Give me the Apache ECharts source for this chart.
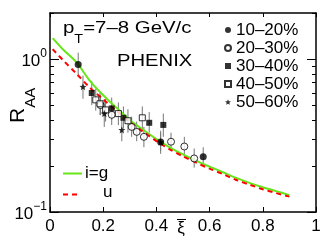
<!DOCTYPE html>
<html><head><meta charset="utf-8">
<script src="https://cdn.jsdelivr.net/npm/echarts@6/dist/echarts.min.js"></script>
<style>html,body{margin:0;padding:0;background:#fff}#c{width:332px;height:250px}</style>
</head><body><div id="c"></div>
<script>
const FONT = 'Liberation Sans';
const xTicks = [0, 0.2, 0.4, 0.6, 0.8, 1];
const xTickLabels = ['0', '0.2', '0.4', '0.6', '0.8', '1'];
const yMajor = [0.1, 1];
const yMinor = [0.2, 0.3, 0.4, 0.5, 0.6, 0.7, 0.8, 0.9, 2];

const centralities = ['10–20%', '20–30%', '30–40%', '40–50%', '50–60%'];
// [xi, RAA, low, high]
const c1020 = [[0.106, 0.92, 0.78, 1.10], [0.416, 0.287, 0.24, 0.34], [0.576, 0.23, 0.205, 0.265]];
const c2030 = [[0.19, 0.50, 0.43, 0.58], [0.232, 0.432, 0.37, 0.50], [0.307, 0.36, 0.31, 0.42], [0.326, 0.334, 0.29, 0.39], [0.353, 0.31, 0.265, 0.36], [0.455, 0.288, 0.25, 0.33], [0.505, 0.268, 0.23, 0.31], [0.542, 0.224, 0.195, 0.26]];
const c3040 = [[0.157, 0.60, 0.50, 0.72], [0.232, 0.475, 0.40, 0.56], [0.276, 0.413, 0.35, 0.49], [0.373, 0.383, 0.33, 0.45], [0.426, 0.371, 0.31, 0.44]];
const c4050 = [[0.172, 0.541, 0.46, 0.64], [0.188, 0.51, 0.43, 0.60], [0.209, 0.465, 0.39, 0.55], [0.257, 0.44, 0.37, 0.52], [0.293, 0.395, 0.33, 0.47], [0.347, 0.413, 0.35, 0.49]];
const c5060 = [[0.124, 0.659, 0.55, 0.78], [0.204, 0.44, 0.36, 0.53], [0.270, 0.344, 0.29, 0.41], [0.416, 0.287, 0.25, 0.33]];

const curveX  = [0.01, 0.05, 0.1, 0.15, 0.2, 0.25, 0.3, 0.35, 0.4, 0.45, 0.5, 0.55, 0.6, 0.65, 0.7, 0.75, 0.8, 0.85, 0.9];
const curveIG = [1.37, 1.15, 0.95, 0.72, 0.58, 0.48, 0.40, 0.345, 0.30, 0.265, 0.238, 0.216, 0.198, 0.182, 0.167, 0.155, 0.145, 0.137, 0.129];
const curveU  = [1.16, 0.98, 0.80, 0.65, 0.545, 0.458, 0.388, 0.335, 0.291, 0.257, 0.231, 0.21, 0.192, 0.177, 0.162, 0.151, 0.141, 0.133, 0.126];

const STAR = 'path://M0,-10L2.6,-3.6L9.5,-3.1L4.2,1.4L5.9,8.1L0,4.4L-5.9,8.1L-4.2,1.4L-9.5,-3.1L-2.6,-3.6Z';
const styles = [
  {symbol: 'circle', size: 7, item: {color: '#000'}},
  {symbol: 'circle', size: 7, item: {color: '#fff', borderColor: '#000', borderWidth: 1}},
  {symbol: 'rect', size: 6, item: {color: '#000'}},
  {symbol: 'rect', size: 6, item: {color: '#fff', borderColor: '#000', borderWidth: 1}},
  {symbol: STAR, size: 7, item: {color: '#000'}}
];
const sets = [c1020, c2030, c3040, c4050, c5060];

const series = [];
sets.forEach((d, i) => {
  series.push({
    type: 'custom', name: centralities[i] + ' err', z: 2,
    data: d,
    encode: {x: 0, y: [2, 3]},
    renderItem: (params, api) => {
      const p1 = api.coord([api.value(0), api.value(2)]);
      const p2 = api.coord([api.value(0), api.value(3)]);
      return {type: 'line', shape: {x1: p1[0], y1: p1[1], x2: p2[0], y2: p2[1]}, style: {stroke: '#777', lineWidth: 1}};
    }
  });
});
series.push({type: 'line', name: 'i=g', data: curveX.map((x, i) => [x, curveIG[i]]), showSymbol: false, smooth: 0.3, z: 3,
  lineStyle: {color: '#66e619', width: 2}});
series.push({type: 'line', name: 'u', data: curveX.map((x, i) => [x, curveU[i]]), showSymbol: false, smooth: 0.3, z: 3,
  lineStyle: {color: '#ff0000', width: 2, type: [5, 4]}});
sets.forEach((d, i) => {
  series.push({type: 'scatter', name: centralities[i], z: 5, data: d.map(r => [r[0], r[1]]),
    symbol: styles[i].symbol, symbolSize: styles[i].size, itemStyle: styles[i].item});
});

const axBase = {
  axisLine: {show: true, lineStyle: {color: '#000', width: 1.5}},
  splitLine: {show: false}
};
const supMap = {'-1': '−1', '0': '0'};
const chart = echarts.init(document.getElementById('c'), null, {renderer: 'canvas'});
chart.setOption({
  animation: false,
  backgroundColor: '#fff',
  grid: {left: 50, right: 16, top: 13, bottom: 38},
  xAxis: [
    Object.assign({type: 'value', min: 0, max: 1, interval: 0.2, position: 'bottom',
      axisTick: {inside: true, length: 5, lineStyle: {color: '#000'}},
      axisLabel: {fontSize: 17, fontFamily: FONT, color: '#000', margin: 6,
        formatter: v => xTickLabels[xTicks.findIndex(t => Math.abs(t - v) < 1e-6)] || ''}}, axBase),
    Object.assign({type: 'value', min: 0, max: 1, interval: 0.2, position: 'top',
      axisTick: {inside: true, length: 4, lineStyle: {color: '#000'}}, axisLabel: {show: false}}, axBase)
  ],
  yAxis: [
    Object.assign({type: 'log', logBase: 10, min: 0.1, max: 2, position: 'left',
      axisTick: {inside: true, length: 9, customValues: yMajor, lineStyle: {color: '#000'}},
      axisLabel: {customValues: yMajor, margin: 3, fontFamily: FONT, color: '#000',
        formatter: v => '{b|10}{s|' + supMap[String(Math.round(Math.log10(v)))] + '}',
        rich: {b: {fontSize: 17, fontFamily: FONT, color: '#000', lineHeight: 22, verticalAlign: 'bottom'},
               s: {fontSize: 12, fontFamily: FONT, color: '#000', lineHeight: 22, verticalAlign: 'top'}}}}, axBase),
    {type: 'log', logBase: 10, min: 0.1, max: 2, position: 'left', axisLine: {show: false}, splitLine: {show: false},
      axisTick: {inside: true, length: 4, customValues: yMinor, lineStyle: {color: '#000'}}, axisLabel: {show: false}},
    Object.assign({type: 'log', logBase: 10, min: 0.1, max: 2, position: 'right',
      axisTick: {inside: true, length: 9, customValues: yMajor, lineStyle: {color: '#000'}}, axisLabel: {show: false}}, axBase),
    {type: 'log', logBase: 10, min: 0.1, max: 2, position: 'right', axisLine: {show: false}, splitLine: {show: false},
      axisTick: {inside: true, length: 4, customValues: yMinor, lineStyle: {color: '#000'}}, axisLabel: {show: false}}
  ],
  legend: {
    orient: 'vertical', left: 219, top: 16, itemWidth: 6, itemHeight: 6, itemGap: 0,
    textStyle: {fontSize: 17, fontFamily: FONT, color: '#000', lineHeight: 18},
    data: centralities, selectedMode: false
  },
  graphic: [
    {type: 'text', x: 63, y: 20, scaleX: 1.2, style: {text: '{a|p}{s|T}{a|=7–8 GeV/c}',
      rich: {a: {fontSize: 17, fontFamily: FONT, fill: '#000', lineHeight: 26, verticalAlign: 'top'},
             s: {fontSize: 12, fontFamily: FONT, fill: '#000', lineHeight: 26, verticalAlign: 'bottom'}}}},
    {type: 'text', x: 117, y: 61, scaleX: 1.19, style: {text: 'PHENIX', font: '17px ' + FONT, fill: '#000', textVerticalAlign: 'middle'}},
    {type: 'line', shape: {x1: 63, y1: 173.5, x2: 82, y2: 173.5}, style: {stroke: '#66e619', lineWidth: 2}},
    {type: 'text', x: 85, y: 173, style: {text: 'i=g', font: '17px ' + FONT, fill: '#000', textVerticalAlign: 'middle'}},
    {type: 'line', shape: {x1: 63, y1: 194.5, x2: 78, y2: 194.5}, style: {stroke: '#ff0000', lineWidth: 2, lineDash: [5, 4]}},
    {type: 'text', x: 103, y: 192, style: {text: 'u', font: '17px ' + FONT, fill: '#000', textVerticalAlign: 'middle'}},
    {type: 'text', x: 8, y: 123, rotation: Math.PI / 2, style: {text: '{r|R}{s|AA}',
      rich: {r: {fontSize: 21, fontFamily: FONT, fill: '#000', lineHeight: 30, verticalAlign: 'top'},
             s: {fontSize: 15, fontFamily: FONT, fill: '#000', lineHeight: 30, verticalAlign: 'bottom'}}}},
    {type: 'text', x: 181, y: 228, style: {text: 'ξ', font: '17px ' + FONT, fill: '#000', textAlign: 'center', textVerticalAlign: 'middle'}},
    {type: 'line', shape: {x1: 177, y1: 219.5, x2: 186, y2: 219.5}, style: {stroke: '#000', lineWidth: 1}}
  ],
  series: series
});
</script></body></html>
